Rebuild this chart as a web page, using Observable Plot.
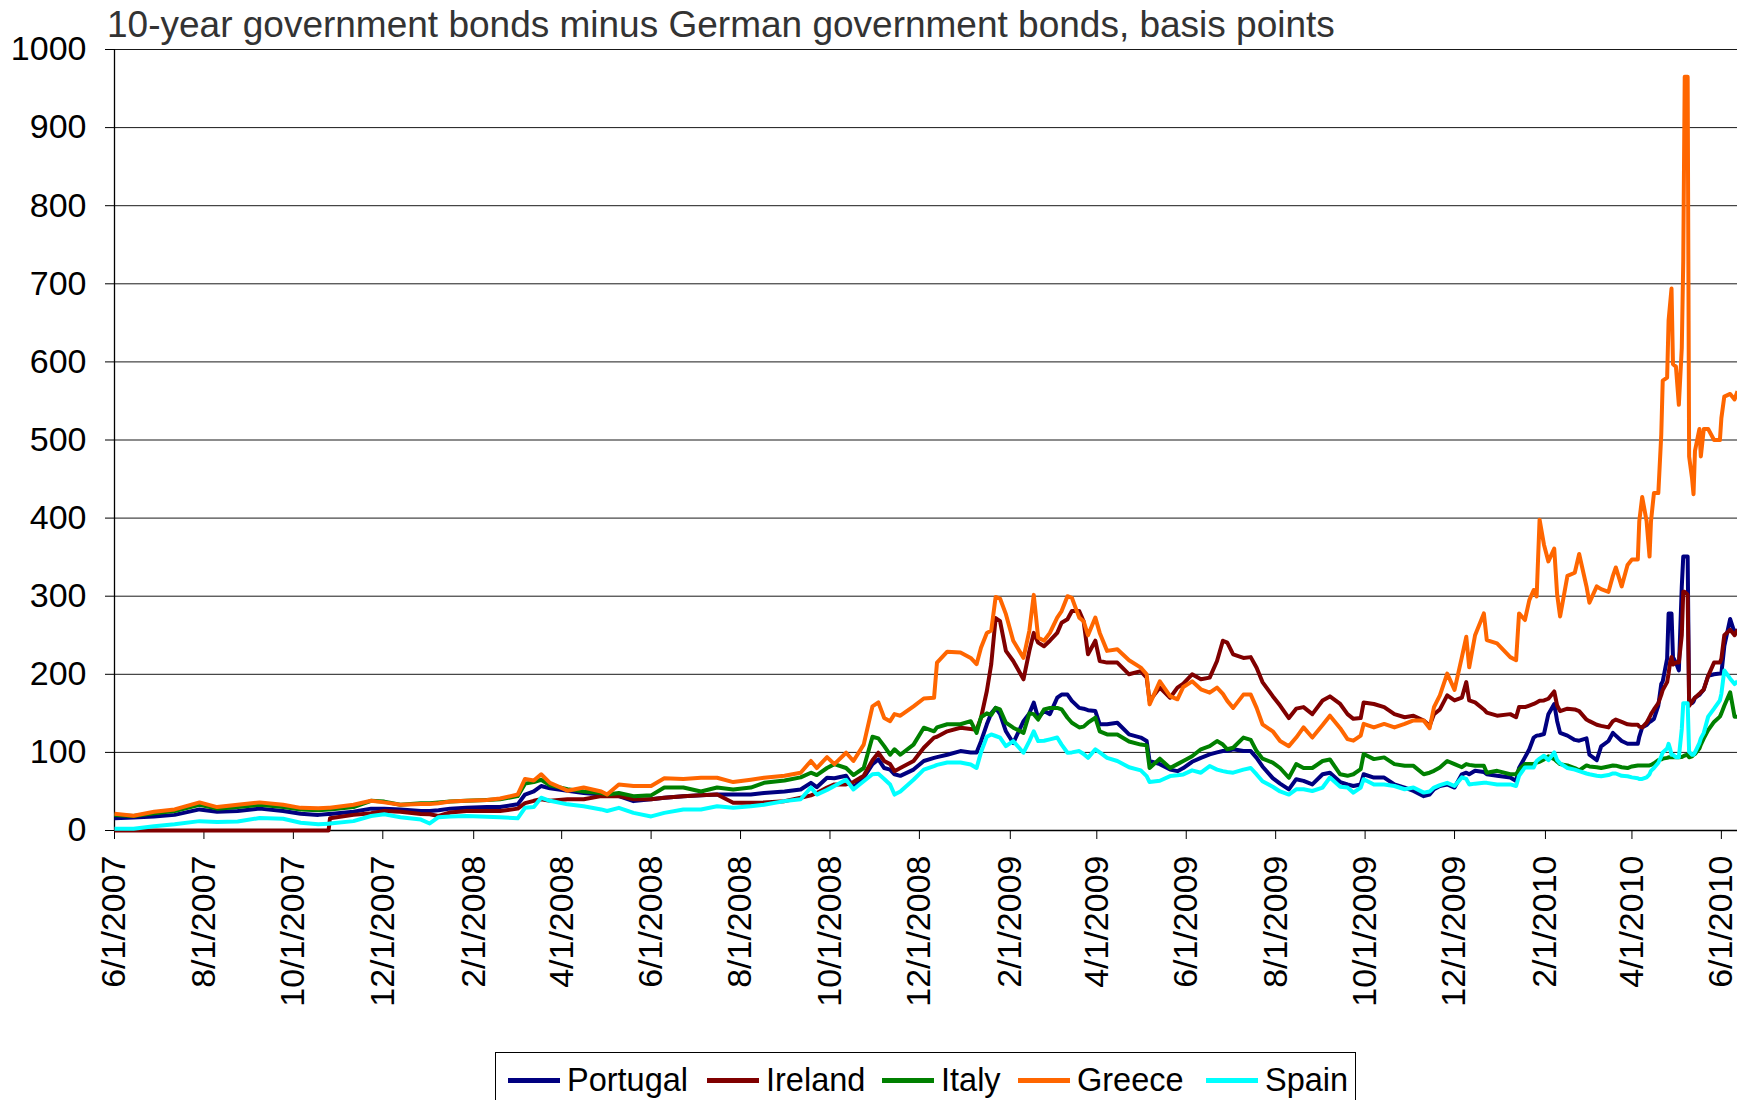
<!DOCTYPE html>
<html>
<head>
<meta charset="utf-8">
<script src="https://cdn.jsdelivr.net/npm/d3@7"></script>
<script src="https://cdn.jsdelivr.net/npm/@observablehq/plot@0.6"></script>
<style>
html, body { margin: 0; padding: 0; background: #fff; overflow: hidden; }
#wrap { position: relative; width: 1737px; height: 1100px; overflow: hidden; font-family: "Liberation Sans", Arial, sans-serif; }
#title { position: absolute; left: 107px; top: 2px; font-size: 37px; color: #333; line-height: 45px; white-space: nowrap; }
#chart { position: absolute; left: 0; top: 45px; }
#legend { position: absolute; left: 495px; top: 1052px; width: 861px; height: 80px; border: 1.5px solid #000; box-sizing: border-box; font-size: 32.5px; color: #000; background: #fff; }
.item { position: absolute; top: 8px; display: flex; align-items: center; gap: 7px; line-height: 39px; white-space: nowrap; }
.sw { width: 52px; height: 5px; }
</style>
</head>
<body>
<div id="wrap">
  <div id="title"></div>
  <div id="chart"></div>
  <div id="legend"></div>
</div>
<script>
const titleText = "10-year government bonds minus German government bonds, basis points";
const seriesNames = ["Portugal", "Ireland", "Italy", "Greece", "Spain"];
const seriesColors = ["#000080", "#800000", "#008000", "#ff6600", "#00ffff"];
const legendOffsets = [12, 211, 386, 522, 710];
const yTicks = [0, 100, 200, 300, 400, 500, 600, 700, 800, 900, 1000];
const xTickLabels = ["6/1/2007", "8/1/2007", "10/1/2007", "12/1/2007", "2/1/2008", "4/1/2008", "6/1/2008", "8/1/2008", "10/1/2008", "12/1/2008", "2/1/2009", "4/1/2009", "6/1/2009", "8/1/2009", "10/1/2009", "12/1/2009", "2/1/2010", "4/1/2010", "6/1/2010"];
const xStart = "2007-06-01";
const xEnd = "2010-06-12";

const dates = [
"2007-06-01","2007-06-14","2007-06-28","2007-07-12","2007-07-29","2007-08-10","2007-08-24","2007-09-08","2007-09-24","2007-10-06",
"2007-10-18","2007-10-25","2007-10-26","2007-11-11","2007-11-23","2007-12-02","2007-12-13","2007-12-27","2008-01-02","2008-01-08",
"2008-01-16","2008-01-27","2008-02-10","2008-02-19","2008-03-02","2008-03-07","2008-03-13","2008-03-18","2008-03-24","2008-04-05",
"2008-04-16","2008-04-28","2008-05-02","2008-05-10","2008-05-20","2008-06-01","2008-06-10","2008-06-23","2008-07-05","2008-07-16",
"2008-07-27","2008-08-08","2008-08-17","2008-08-31","2008-09-11","2008-09-18","2008-09-22","2008-09-29","2008-10-04","2008-10-12",
"2008-10-17","2008-10-24","2008-10-30","2008-11-03","2008-11-07","2008-11-11","2008-11-14","2008-11-18","2008-11-27","2008-12-04",
"2008-12-11","2008-12-13","2008-12-20","2008-12-29","2009-01-05","2009-01-09","2009-01-12","2009-01-16","2009-01-19","2009-01-22",
"2009-01-25","2009-01-29","2009-02-03","2009-02-10","2009-02-14","2009-02-17","2009-02-20","2009-02-24","2009-02-28","2009-03-05",
"2009-03-08","2009-03-12","2009-03-15","2009-03-20","2009-03-23","2009-03-26","2009-03-31","2009-04-03","2009-04-08","2009-04-15",
"2009-04-23","2009-05-01","2009-05-05","2009-05-07","2009-05-14","2009-05-21","2009-05-26","2009-05-30","2009-06-05","2009-06-11",
"2009-06-17","2009-06-22","2009-06-26","2009-06-29","2009-07-03","2009-07-10","2009-07-15","2009-07-19","2009-07-23","2009-07-30",
"2009-08-04","2009-08-10","2009-08-15","2009-08-20","2009-08-26","2009-09-02","2009-09-07","2009-09-14","2009-09-19","2009-09-23",
"2009-09-28","2009-09-30","2009-10-07","2009-10-14","2009-10-21","2009-10-28","2009-11-03","2009-11-10","2009-11-14","2009-11-17",
"2009-11-21","2009-11-26","2009-12-01","2009-12-06","2009-12-09","2009-12-11","2009-12-15","2009-12-21","2009-12-23","2009-12-30",
"2010-01-08","2010-01-12","2010-01-14","2010-01-18","2010-01-21","2010-01-24","2010-01-26","2010-01-28","2010-01-31","2010-02-03",
"2010-02-07","2010-02-09","2010-02-11","2010-02-16","2010-02-21","2010-02-24","2010-03-01","2010-03-03","2010-03-08","2010-03-11",
"2010-03-16","2010-03-19","2010-03-21","2010-03-25","2010-03-29","2010-04-01","2010-04-05","2010-04-06","2010-04-08","2010-04-11",
"2010-04-13","2010-04-14","2010-04-16","2010-04-19","2010-04-21","2010-04-22","2010-04-25","2010-04-26","2010-04-27","2010-04-28",
"2010-04-29","2010-05-01","2010-05-03","2010-05-05","2010-05-06","2010-05-07","2010-05-09","2010-05-10","2010-05-12","2010-05-13",
"2010-05-14","2010-05-17","2010-05-18","2010-05-20","2010-05-23","2010-05-27","2010-05-31","2010-06-01","2010-06-03","2010-06-07",
"2010-06-10","2010-06-12"
];

const portugal = [
15.6,16.5,18,20,27,24,25,28,25,21.5,
20,21,21,24,28,28,27,25,25,26,
28,29,30,30,33.5,46,50,57,54,51,
48,46,46,44,37.6,40,42,44,45,46,
46,46,48,50,52.5,61,55.5,67.5,67,70,
55,67.5,85,91,80,78,72,70,78,89,
93,94,97,101.7,100,100,114,136,150,157,
149,127,112,140,150,163.7,144,153,149,170,
174,174,166,157,156,154,153,136,136,138,
123,119,114.5,89,85,78,76,80,88,93,
97.4,100,101.7,101.7,104,101.7,101.7,93,82,67,
60,52.6,65.7,63.5,59,72,74,62,59,57,
59,72,67.8,67.8,59,55,50.6,44,46,52.8,
57,59,55,72,74,72,76.4,75,72,70,
67.8,63.5,80,93.6,104,119,121.5,122,123.6,149,
162,140,125,121.5,116,115,118,97,90,107.6,
114.6,125,121.5,114.6,111,111,111,120,132,135,
139,140,143,160,187.5,191,220,277.8,277.8,277.8,
222,215,205,312.5,350.7,350.7,350.7,166.7,163,165,
170,173.6,176,180.6,198,200,201,201,236,270.8,
253.5,257
];

const ireland = [
0,0,0,0,0,0,0,0,0,0,
0,0,15.6,20,22,25,24,21,20.7,18.6,
23,25,25,25,28,35,38,40,38,40,
40,44,44,44,40,40,42,44,45,46,
35.5,35.5,36,37.6,42,45,48,55,59,59,
62,70,90,99.6,89,85,76,80,89,106,
119,120,127,131.6,130,129,144,178.6,213,272,
268,230,217,193.6,230,253,240.6,236,243,253,
266,270.5,281,281,268,225.6,243,217,215,215,
200,204,195.7,166,183,170,183,188,200,193.6,
195.7,217,243,240.6,225.6,221,222,208.5,190,172,
160,144,156,158,149,166.5,171.7,162,149,143,
144,164,162,158,149,145,147,140.8,134,149,
155,173,166.5,170,190,166.5,164,155,151,147,
149,145,158,158,160,162,164,166,166.5,168.7,
178,160,152.8,156,155,152.8,142,140,135.4,134,
132,140,142,139,136,135.4,135.4,133,132,138,
145,149,155,163,173.6,180,190,201,215,222,
212.5,215,215,250,305.6,305.6,302,159.7,165,168,
170,175,177,180.6,198,215,215,220,250,257,
250,257
];

const italy = [
20,18.5,22,25,33,28,30,33,30,27,
26,27,27,30,38,37,33,35,35,36,
37,38,39,40,44,60,62,65,58,53,
50,48,46,48,44,45,55,55,50,55,
52.5,55,61,64,68,74,71,80,85,80,
71,80,120,118,108,97,104,97,110,131.6,
127,132,136,136,140,125,145,150,148,157,
155,138,131.6,125,150,149,142,155,157,157,
155,144.4,138,132,133,138,144.4,127,123,123,
114,110,109,80,92,80,85,89,95,104,
108,114.5,110,104,106,119,116,101.7,92,87,
80,67.5,85,80,80,89,91,72,70,72,
78.5,97.9,91.4,93.6,85,82.8,82.8,72,74,76.4,
80.7,89,85,81,85,84,82.8,82.8,74,76.4,
72,72,78,85,85,85,87,88,91,95,
91.4,88,85,83.3,80,77,83.3,82,81,80,
82,83.3,83,81,80,82,83.3,83.3,83.3,83.3,
83.3,84,86,90,91,92,93,93.75,93.75,93.75,
93.75,93.75,93.75,94,95,96,97,93.75,95,97,
98,105,110,118,128.5,139,145.8,150,159.7,177,
145.8,145.8
];

const greece = [
21.5,19,24,27,36,30,33,36,33,29,
28.5,29,29,33,38,36,33,34,34,35,
37,38,39,41,46,66,64,72,61,51,
55,50,46,59,57,57,67,66,67.5,67.5,
62,65,67.5,70,74,89,80,94,85,99.6,
89,110,159,164,144,140,149,147,159,169,
170,215,229,228,221,213,234,253,256,299,
297,277,243,221,256,301.7,247,243,253,272.6,
281,300,298,272.6,268,250,272.6,253,230,232,
218,208.5,200,161.5,191,172,168,183.8,191,180.8,
176.5,183,175,166,157,174,174,157,136,127,
114.5,108,119,132,119,135,147,131,117,115,
121.5,136.5,132,136.5,132,136.5,141,140.8,131,158,
173,200.8,180,222,248,209,250,278,243.8,239.5,
222,218,278,269.5,295,308,299.6,398,366,344.6,
361,302,274,326,330,354,312.5,291.7,312.5,309,
305.6,326,336.8,312.5,340,347,347,396,427,396,
350.7,396,432,432,507,576,580,653,673.6,694,
597,594,545,618,729,965,965,479,451,430.6,
486,514,479,514,514,500,500,528,555.6,559,
552,562.5
];

const spain = [
2.3,2.3,5.5,8,12,11,11.5,16,15,10,
8,8.5,9,12,18.6,20.7,17,14,9,17,
18,18.6,17.5,17,15.6,29,30,42,38,33.5,
31,27,25,29,22.6,18,22.6,27,27,31,
29,31,33,37.6,40,55,46,52,57,65,
52.5,63,72,72.6,66,59,46,50,65,78,
82.5,84,87,87,84.6,80,100,120,123,121,
119,108,114.5,99.6,114.5,127,114.5,115,116.7,119,
110,99.6,100,101.7,98,93,104,100,93,89,
81,77,69.7,62,63.7,69.7,70.7,71.8,77,74,
82.5,78,76,75,74,78,80,71.8,63,56,
50,46,52.8,52.8,50.6,55,67.8,56,55,48.5,
55,65.7,59,59,57,52.8,55,48.5,50,55,
58,61,57,68,66,59,60,61,61,59,
59,57,70,80.7,80.7,80.7,89,92,95.7,90,
100,90,86,80,78,76,73,72,70,69.4,
71,73,73,70,69.4,68,67,66,66,68,
72,76.4,80,86.8,95,100,105,111,105,97,
97,93.75,93.75,130,163,163,163,100.7,97,97,
100,112,118,125,145.8,156,166.7,175,205,194.4,
187.5,191
];

const seriesValues = [portugal, ireland, italy, greece, spain];
const parseDay = s => new Date(s + "T00:00:00Z");
const rows = seriesNames.flatMap((name, i) =>
  dates.map((d, j) => ({series: name, date: parseDay(d), value: seriesValues[i][j]}))
);
const xTicks = xTickLabels.map(s => { const [m, d, y] = s.split("/").map(Number); return new Date(Date.UTC(y, m - 1, d)); });
const labelOf = new Map(xTicks.map((t, i) => [+t, xTickLabels[i]]));

document.getElementById("title").textContent = titleText;

const chart = Plot.plot({
  width: 1737,
  height: 965,
  marginTop: 4,
  marginLeft: 114,
  marginRight: 0,
  marginBottom: 180,
  style: {fontFamily: '"Liberation Sans", Arial, sans-serif', fontSize: "34px", color: "#000", background: "#fff", overflow: "visible"},
  x: {type: "utc", domain: [parseDay(xStart), parseDay(xEnd)]},
  y: {domain: [0, 1000]},
  color: {domain: seriesNames, range: seriesColors},
  marks: [
    Plot.ruleY(yTicks, {stroke: "#000", strokeWidth: 1, strokeOpacity: 0.9}),
    Plot.axisY({ticks: yTicks, tickSize: 9, tickPadding: 19, tickFormat: d => String(d), label: null, stroke: "#000"}),
    Plot.axisX({ticks: xTicks, tickFormat: d => labelOf.get(+d), tickRotate: -90, tickSize: 9, tickPadding: 16, label: null, stroke: "#000"}),
    Plot.ruleX([parseDay(xStart)], {stroke: "#000", strokeWidth: 1.3}),
    Plot.ruleY([0], {stroke: "#000", strokeWidth: 1.3}),
    Plot.line(rows, {x: "date", y: "value", z: "series", stroke: "series", strokeWidth: 4, strokeLinejoin: "round", strokeLinecap: "butt"})
  ]
});
document.getElementById("chart").appendChild(chart);

const legend = document.getElementById("legend");
seriesNames.forEach((name, i) => {
  const item = document.createElement("div");
  item.className = "item";
  item.style.left = legendOffsets[i] + "px";
  const sw = document.createElement("div");
  sw.className = "sw";
  sw.style.background = seriesColors[i];
  const tx = document.createElement("span");
  tx.textContent = name;
  item.appendChild(sw);
  item.appendChild(tx);
  legend.appendChild(item);
});
</script>
</body>
</html>
